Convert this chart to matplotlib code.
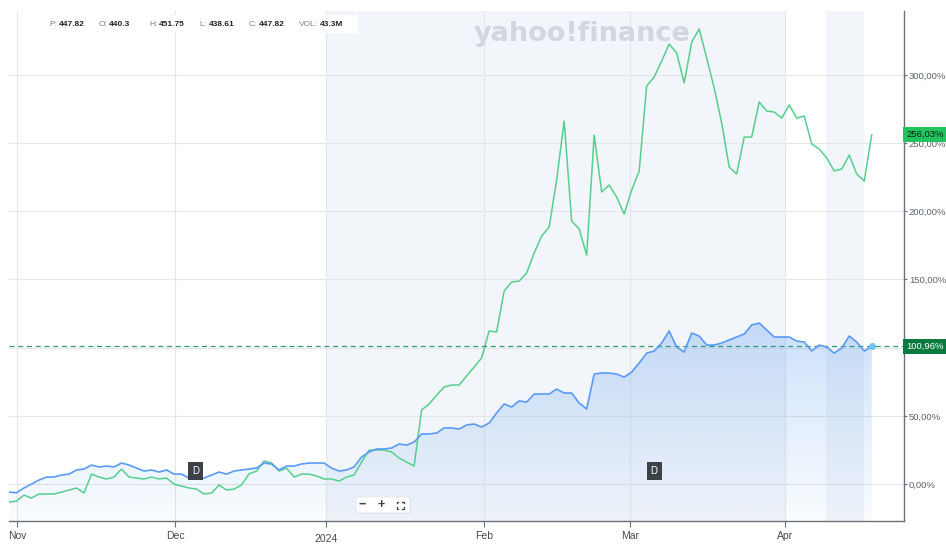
import numpy as np
import matplotlib
matplotlib.use("Agg")
import matplotlib.pyplot as plt
from matplotlib.patches import FancyBboxPatch, Rectangle
from matplotlib.lines import Line2D
from matplotlib.transforms import IdentityTransform

plt.rcParams['font.family'] = ['Liberation Sans', 'DejaVu Sans']

# === Data: % change, one point per trading day (end Oct 2023 -> mid Apr 2024) ===
blue_pct = [
    -5.9, -6.4, -2.9, 0.0, 2.9, 5.1, 5.1, 6.6, 7.3, 10.3,
    11.0, 13.9, 12.5, 13.2, 12.5, 15.4, 13.9, 11.7, 9.5, 10.3,
    8.8, 10.3, 7.3, 7.3, 4.4, 4.4, 4.4, 6.6, 8.8, 7.3,
    9.5, 10.3, 11.0, 11.7, 15.4, 14.7, 10.3, 13.2, 13.2, 14.7,
    15.4, 15.4, 15.4, 11.7, 9.5, 10.3, 12.5, 19.8, 23.5, 25.7,
    25.7, 26.4, 29.3, 28.6, 30.8, 36.7, 36.7, 37.4, 41.1, 41.1,
    40.3, 43.3, 44.0, 41.8, 44.7, 52.1, 58.7, 56.5, 60.9, 60.1,
    66.0, 66.0, 66.0, 69.6, 66.7, 66.7, 59.4, 55.0, 80.6, 81.4,
    81.4, 80.6, 78.4, 82.1, 88.7, 96.0, 97.5, 103.4, 112.2, 100.4,
    96.8, 110.7, 108.5, 101.9, 101.9, 103.4, 105.6, 107.8, 110.0, 116.6,
    118.0, 112.9, 107.8, 107.8, 107.8, 104.8, 104.1, 97.5, 101.9, 100.4,
    96.0, 99.7, 108.5, 104.1, 97.5, 100.96,
]
green_pct = [
    -13.2, -12.5, -8.1, -10.3, -7.3, -7.3, -7.3, -5.9, -4.4, -2.9,
    -6.6, 7.3, 5.1, 3.7, 5.1, 11.0, 5.1, 4.4, 3.7, 5.1,
    3.7, 4.4, 0.0, -1.5, -2.9, -3.7, -7.3, -6.6, -0.7, -4.4,
    -3.7, -0.7, 7.5, 9.5, 16.9, 15.4, 9.5, 11.7, 5.1, 7.3,
    7.3, 5.9, 3.7, 3.7, 2.2, 5.1, 6.6, 16.1, 24.9, 24.9,
    24.9, 23.5, 19.1, 16.1, 13.2, 54.3, 58.7, 65.2, 71.1, 72.6,
    72.6, 79.2, 85.8, 92.4, 112.2, 111.4, 141.5, 148.1, 148.8, 154.7,
    169.4, 181.8, 188.4, 222.9, 266.1, 192.8, 187.0, 167.9, 255.9, 214.1,
    219.2, 210.4, 197.9, 215.5, 229.5, 291.8, 298.4, 310.1, 322.6, 316.0,
    294.0, 324.0, 333.6, 312.3, 290.3, 264.7, 232.4, 227.3, 254.4, 254.4,
    280.1, 273.5, 272.7, 268.3, 277.9, 268.3, 269.8, 249.3, 245.6, 239.0,
    229.5, 230.9, 241.2, 227.3, 222.1, 256.03,
]
month_labels = ["Nov", "Dec", "", "Feb", "Mar", "Apr"]
month_pos = [1.07, 22.13, 42.27, 63.33, 82.8, 103.47]
y_ticks = [0, 50, 100, 150, 200, 250, 300]
shade_spans = [(42.27, 103.47), (108.9, 114.0)]
dividend_days = [24.9, 86.0]
quote_labels = ["P:", "O:", "H:", "L:", "C:", "VOL:"]
quote_values = ["447.82", "440.3", "451.75", "438.61", "447.82", "43.3M"]

# === Layout ===
W, H = 946, 544
YMIN, YMAX = -27.1, 346.8
XMAX = 119.3
fig = plt.figure(figsize=(W / 100, H / 100), dpi=100)
ax = fig.add_axes([9 / W, 23 / H, 895 / W, 510 / H])
x = np.arange(len(blue_pct))

for a, b in shade_spans:
    ax.axvspan(a, b, color='#f2f5f9', lw=0, zorder=0)
for v in y_ticks:
    ax.axhline(v, color='#e3e6ea', lw=0.8, zorder=1)
for p in month_pos:
    ax.axvline(p, color='#e3e6ea', lw=0.8, zorder=1)

ax.text(0.64, 0.955, "yahoo!finance", transform=ax.transAxes, fontsize=19.5,
        weight='heavy', color='#d2d7de', ha='center', va='center',
        family='DejaVu Sans', zorder=1)

# gradient area under blue line
poly = ax.fill_between(x, blue_pct, YMIN, facecolor='none', lw=0)
grad = np.zeros((256, 1, 4))
grad[..., 0] = 0.33
grad[..., 1] = 0.60
grad[..., 2] = 0.95
grad[..., 3] = np.linspace(0.30, 0.03, 256)[:, None]
im = ax.imshow(grad, extent=[0, x[-1], YMIN, 120], origin='upper',
               aspect='auto', zorder=2, interpolation='bilinear')
im.set_clip_path(poly.get_paths()[0], transform=ax.transData)

ax.plot(x, green_pct, color='#55d08c', lw=1.1, zorder=3)
ax.plot(x, blue_pct, color='#5a9bf6', lw=1.2, zorder=4)
ax.plot(x[-1], blue_pct[-1], 'o', ms=4, color='#74c3f8', zorder=5)
ax.axhline(blue_pct[-1], color='#2e9e6a', lw=0.9, ls=(0, (4, 3)), zorder=3)

for d in dividend_days:
    ax.text(d, 9.5, "D", color='white', fontsize=7, ha='center', va='center',
            bbox=dict(boxstyle='square,pad=0.4', fc='#3d4249', ec='none'), zorder=6)

ax.set_xlim(0, XMAX)
ax.set_ylim(YMIN, YMAX)

# === Axes styling ===
for s in ['left', 'top']:
    ax.spines[s].set_visible(False)
for s in ['right', 'bottom']:
    ax.spines[s].set_color('#6b7178')
    ax.spines[s].set_linewidth(1)
ax.yaxis.tick_right()
ax.set_yticks(y_ticks)
# the 100% label sits under the last-value tag, as in the source chart
ax.set_yticklabels(["" if v == 100 else f"{v:.2f}%".replace('.', ',') for v in y_ticks])
ax.set_xticks(month_pos)
ax.set_xticklabels(month_labels)
ax.tick_params(axis='y', length=2, color='#6b7178', labelsize=6.8,
               labelcolor='#5b636a', pad=1.5)
ax.tick_params(axis='x', length=4, color='#6b7178', labelsize=7.5,
               labelcolor='#464b52', pad=3)
fig.text(326 / W, 0.0, "2024", ha='center', va='bottom', fontsize=7.5, color='#464b52')

# last-value tags on the right axis
ax.annotate(f"{green_pct[-1]:.2f}%".replace('.', ','), xy=(1.0, green_pct[-1]),
            xycoords=('axes fraction', 'data'), xytext=(1.5, 0), textcoords='offset points',
            ha='left', va='center', fontsize=6.8, color='#0c2414',
            bbox=dict(boxstyle='square,pad=0.3', fc='#22c35f', ec='none'), zorder=7,
            annotation_clip=False)
ax.annotate(f"{blue_pct[-1]:.2f}%".replace('.', ','), xy=(1.0, blue_pct[-1]),
            xycoords=('axes fraction', 'data'), xytext=(1.5, 0), textcoords='offset points',
            ha='left', va='center', fontsize=6.8, color='white',
            bbox=dict(boxstyle='square,pad=0.3', fc='#0b7a40', ec='none'), zorder=7,
            annotation_clip=False)

# === Quote bar ===
px = IdentityTransform()
fig.add_artist(Rectangle((40, H - 33), 318, 18, transform=px, fc='white', ec='none'))
for k, (lab, val) in enumerate(zip(quote_labels, quote_values)):
    x0 = 49 + 50 * k
    fig.text(x0 / W, 1 - 24.5 / H, lab, fontsize=6, color='#7a8188', va='center')
    off = 21 if lab == "VOL:" else 10
    fig.text((x0 + off) / W, 1 - 24.5 / H, val, fontsize=6, color='#1f262d',
             weight='bold', va='center')

# === Zoom controls ===
fig.add_artist(FancyBboxPatch((357, H - 514), 54, 16, transform=px,
                              boxstyle='round,pad=0,rounding_size=3',
                              fc='#d9dde2', ec='none', alpha=0.6))
fig.add_artist(FancyBboxPatch((356, H - 513), 54, 16, transform=px,
                              boxstyle='round,pad=0,rounding_size=3',
                              fc='white', ec='#e4e7eb', lw=0.6))
fig.text(362 / W, 1 - 505 / H, "\u2212", fontsize=9, color='#3d4249',
         ha='center', va='center', weight='bold')
fig.text(381 / W, 1 - 505 / H, "+", fontsize=9, color='#3d4249',
         ha='center', va='center', weight='bold')
cx, cy, r, c = 400, H - 505, 3.5, 1.8
for sx in (-1, 1):
    for sy in (-1, 1):
        fig.add_artist(Line2D([cx + sx * r, cx + sx * r, cx + sx * (r - c)],
                              [cy + sy * (r - c), cy + sy * r, cy + sy * r],
                              transform=px, color='#3d4249', lw=0.9))

fig.savefig("out.png", dpi=100)
